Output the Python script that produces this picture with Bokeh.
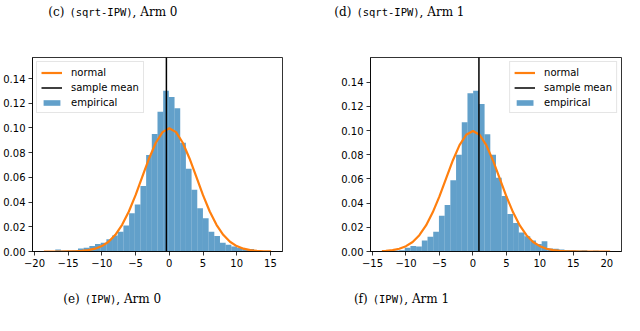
import numpy as np
from bokeh.plotting import figure
from bokeh.models import Range1d, FixedTicker, Legend, LegendItem, NumeralTickFormatter
from bokeh.layouts import column, row
from bokeh.core.properties import value
from bokeh.embed import file_html
from bokeh.resources import INLINE

# ---------------- data ----------------
# Arm 0 (IPW): histogram densities of 40 equal bins between lo and hi
arm0_hist = [0.0003, 0.0005, 0.0016, 0.0008, 0.0008, 0.0010, 0.0024, 0.0030, 0.0045, 0.0060,
             0.0070, 0.0100, 0.0130, 0.0160, 0.0210, 0.0310, 0.0380, 0.0530, 0.0780, 0.0950,
             0.1130, 0.1300, 0.1250, 0.1160, 0.0880, 0.0670, 0.0500, 0.0350, 0.0270, 0.0160,
             0.0125, 0.0070, 0.0055, 0.0040, 0.0030, 0.0020, 0.0020, 0.0012, 0.0003, 0.0002]
arm0_lo, arm0_hi = -18.6, 15.1
arm0_mean = -0.43
arm0_curve_x = [-18.6, -18, -17, -16, -15, -14, -13, -12, -11, -10, -9, -8, -7, -6, -5, -4, -3, -2, -1, 0,
                1, 2, 3, 4, 5, 6, 7, 8, 9, 10, 11, 12, 13, 14, 15, 15.1]
arm0_curve_y = [0.0, 0.0, 0.0, 0.0, 0.0001, 0.0002, 0.0005, 0.0011, 0.0023, 0.0044, 0.0079, 0.0135,
                0.0216, 0.0324, 0.0456, 0.0605, 0.0753, 0.0880, 0.0966, 0.0997,
                0.0966, 0.0880, 0.0753, 0.0605, 0.0456, 0.0324, 0.0216, 0.0135, 0.0079, 0.0044,
                0.0023, 0.0011, 0.0005, 0.0002, 0.0001, 0.0001]
arm0_xticks = [-20, -15, -10, -5, 0, 5, 10, 15]

# Arm 1 (IPW)
arm1_hist = [0.0003, 0.0006, 0.0008, 0.0010, 0.0030, 0.0045, 0.0042, 0.0090, 0.0123, 0.0164,
             0.0295, 0.0385, 0.0590, 0.0800, 0.1070, 0.1310, 0.1330, 0.1220, 0.0970, 0.0800,
             0.0610, 0.0460, 0.0310, 0.0235, 0.0158, 0.0126, 0.0090, 0.0063, 0.0085, 0.0025,
             0.0022, 0.0016, 0.0012, 0.0010, 0.0008, 0.0010, 0.0005, 0.0006, 0.0003, 0.0002]
arm1_lo, arm1_hi = -13.6, 20.5
arm1_mean = 0.9
arm1_curve_x = [-13.6, -13, -12, -11, -10, -9, -8, -7, -6, -5, -4, -3, -2, -1, 0,
                1, 2, 3, 4, 5, 6, 7, 8, 9, 10, 11, 12, 13, 14, 15, 16, 17, 18, 19, 20, 20.5]
arm1_curve_y = [0.0003, 0.0005, 0.0011, 0.0023, 0.0044, 0.0079, 0.0135, 0.0216, 0.0324, 0.0456,
                0.0605, 0.0753, 0.0880, 0.0966, 0.0997,
                0.0966, 0.0880, 0.0753, 0.0605, 0.0456, 0.0324, 0.0216, 0.0135, 0.0079, 0.0044,
                0.0023, 0.0011, 0.0005, 0.0002, 0.0001, 0.0, 0.0, 0.0, 0.0, 0.0, 0.0]
arm1_xticks = [-15, -10, -5, 0, 5, 10, 15, 20]

y_ticks = [0.0, 0.02, 0.04, 0.06, 0.08, 0.10, 0.12, 0.14]

legend_labels = ["normal", "sample mean", "empirical"]
top_captions = [("(c)", "(sqrt-IPW)", ", Arm 0"), ("(d)", "(sqrt-IPW)", ", Arm 1")]
bottom_captions = [("(e)", "(IPW)", ", Arm 0"), ("(f)", "(IPW)", ", Arm 1")]

# ---------------- style ----------------
BLUE = "#1f77b4"
ORANGE = "#ff7f0e"
TICK_FONT = "DejaVu Sans"
SERIF = "DejaVu Serif"
MONO = "DejaVu Sans Mono"
MONO_SIZE = 10.5
SERIF_SIZE = 12

TOP_H, PLOT_H, BOT_H = 28, 246, 32


def make_panel(hist, lo, hi, cx, cy, mean, xr, yr, xticks, loc, width, mbl, mbr):
    p = figure(width=width, height=PLOT_H, output_backend="svg", toolbar_location=None,
               x_range=Range1d(*xr), y_range=Range1d(*yr),
               min_border_left=mbl, min_border_right=mbr, min_border_top=29,
               min_border_bottom=23)
    p.xgrid.visible = False
    p.ygrid.visible = False
    p.outline_line_color = "black"
    p.outline_line_width = 0.8
    p.background_fill_color = "white"
    p.border_fill_color = "white"
    for ax in (p.xaxis[0], p.yaxis[0]):
        ax.axis_line_color = "black"
        ax.axis_line_width = 0.8
        ax.major_tick_line_width = 0.8
        ax.major_tick_in = 0
        ax.major_tick_out = 4
        ax.minor_tick_line_color = None
        ax.major_label_text_font = TICK_FONT
        ax.major_label_text_font_size = "10px"
        ax.major_label_text_color = "black"
        ax.major_label_standoff = 3
    p.xaxis[0].ticker = FixedTicker(ticks=xticks)
    p.xaxis[0].major_label_overrides = {t: (str(t).replace("-", "\u2212")) for t in xticks}
    p.yaxis[0].ticker = FixedTicker(ticks=y_ticks)
    p.yaxis[0].formatter = NumeralTickFormatter(format="0.00")

    edges = np.linspace(lo, hi, len(hist) + 1)
    h = p.quad(left=edges[:-1], right=edges[1:], bottom=0, top=hist,
               fill_color=BLUE, fill_alpha=0.7, line_color=None)
    c = p.line(cx, cy, line_color=ORANGE, line_width=2.2)
    m = p.line([mean, mean], [0, 1], line_color="black", line_width=1.5)

    legend = Legend(items=[LegendItem(label=legend_labels[0], renderers=[c]),
                           LegendItem(label=legend_labels[1], renderers=[m]),
                           LegendItem(label=legend_labels[2], renderers=[h])],
                    location=loc)
    legend.label_text_font = TICK_FONT
    legend.label_text_font_size = "10px"
    legend.label_text_color = "black"
    legend.glyph_width = 21
    legend.glyph_height = 7
    legend.label_height = 12
    legend.spacing = 3
    legend.padding = 4
    legend.margin = 4
    legend.label_standoff = 9
    legend.border_line_color = "#cccccc"
    legend.border_line_width = 1
    legend.background_fill_alpha = 0.8
    p.add_layout(legend)
    return p


left = make_panel(arm0_hist, arm0_lo, arm0_hi, arm0_curve_x, arm0_curve_y, arm0_mean,
                  (-20.29, 16.79), (0, 0.157), arm0_xticks, "top_left", 338, 30, 56)
right = make_panel(arm1_hist, arm1_lo, arm1_hi, arm1_curve_x, arm1_curve_y, arm1_mean,
                   (-15.3, 22.2), (0, 0.1605), arm1_xticks, "top_right", 286, 30, 3)


def caption_fig(height, captions, centers, baseline):
    f = figure(width=624, height=height, output_backend="svg", toolbar_location=None,
               x_range=Range1d(0, 624), y_range=Range1d(height, 0),
               x_axis_type=None, y_axis_type=None, title=None,
               min_border=0, min_border_left=0, min_border_right=0,
               min_border_top=0, min_border_bottom=0)
    f.xgrid.visible = False
    f.ygrid.visible = False
    f.outline_line_color = None
    f.background_fill_color = "white"
    f.border_fill_color = "white"
    for (pre, code, post), cxm in zip(captions, centers):
        half = len(code) * 0.602 * MONO_SIZE / 2
        f.text(x=[cxm], y=[baseline], text=[code], text_font=value(MONO),
               text_font_size=f"{MONO_SIZE}px", text_align="center",
               text_baseline="alphabetic", text_color="black")
        f.text(x=[cxm - half - 5], y=[baseline], text=[pre], text_font=value(SERIF),
               text_font_size=f"{SERIF_SIZE}px", text_align="right",
               text_baseline="alphabetic", text_color="black")
        f.text(x=[cxm + half], y=[baseline], text=[post], text_font=value(SERIF),
               text_font_size=f"{SERIF_SIZE}px", text_align="left",
               text_baseline="alphabetic", text_color="black")
    return f


top = caption_fig(TOP_H, top_captions, [100.5, 387.5], 11)
bottom = caption_fig(BOT_H, bottom_captions, [100, 388], 24)

layout = column(top, row(left, right, spacing=0), bottom, spacing=0)

open("out.html", "w").write(file_html(layout, INLINE))
